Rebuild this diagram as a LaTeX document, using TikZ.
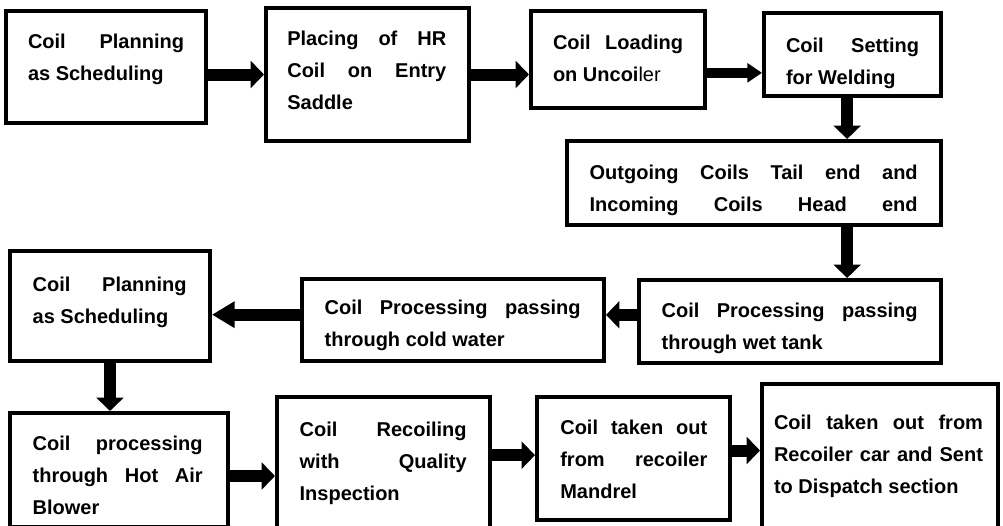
\documentclass[tikz,border=0pt]{standalone}
\usepackage{fontspec}
\setmainfont{Liberation Sans}
\usepackage{tikz}
\usetikzlibrary{arrows.meta, positioning}
\tolerance=10000
\hbadness=10000
\hyphenpenalty=10000

\begin{document}
\begin{tikzpicture}[
  x=0.75pt, y=-0.75pt,
  stage/.style={rectangle, draw, line width=3pt, fill=white},
  stagetext/.style={inner sep=0pt, outer sep=0pt, align=justify,
                    font=\fontsize{15pt}{24pt}\selectfont\bfseries},
  flow/.style={line width=9pt, -{Triangle[length=10pt, width=20pt]}},
  flowthin/.style={line width=7pt, -{Triangle[length=11pt, width=14pt]}}
]
\useasboundingbox (0,0) rectangle (1003,525);

% Fila superior
\node[stage, minimum width=150pt, minimum height=84pt]       (s1) at (106,67)    {};
\node[stage, minimum width=152.25pt, minimum height=99.75pt] (s2) at (367.5,74.5) {};
\node[stage, minimum width=130.5pt, minimum height=72.75pt]  (s3) at (618,59.5)  {};
\node[stage, minimum width=132.75pt, minimum height=62.25pt] (s4) at (852.5,54.5) {};

% Soldadura
\node[stage, minimum width=280.5pt, minimum height=63pt]     (s5) at (754,183)   {};

% Fila de retorno
\node[stage, minimum width=226.5pt, minimum height=62.25pt]  (s6) at (790,321.5) {};
\node[stage, minimum width=226.5pt, minimum height=61.5pt]   (s7) at (453,320)   {};
\node[stage, minimum width=150pt, minimum height=82.5pt]     (s8) at (110,306)   {};

% Fila inferior
\node[stage, minimum width=163.5pt, minimum height=85.5pt]   (s9)  at (119,470)   {};
\node[stage, minimum width=159.75pt, minimum height=98.25pt] (s10) at (383.5,462.5) {};
\node[stage, minimum width=144.75pt, minimum height=92.25pt] (s11) at (633.5,458.5) {};
\node[stage, minimum width=177pt, minimum height=108pt]      (s12) at (880,456)   {};

% Textos
\node[stagetext, text width=117pt, below right=19pt and 18pt of s1.north west] (t1)
  {Coil Planning\linebreak as Scheduling};
\node[stagetext, text width=119.25pt, below right=19pt and 17.5pt of s2.north west] (t2)
  {Placing of HR\linebreak Coil on Entry\linebreak Saddle};
\node[stagetext, text width=97.5pt, below right=19.5pt and 18pt of s3.north west] (t3)
  {Coil Loading\linebreak on Uncoi{\mdseries ler}};
\node[stagetext, text width=99.75pt, below right=20pt and 18pt of s4.north west] (t4)
  {Coil Setting\linebreak for Welding};
\node[stagetext, text width=246pt, below right=19.5pt and 18.5pt of s5.north west] (t5)
  {Outgoing Coils Tail end and\linebreak \makebox[246pt][s]{Incoming Coils Head end}};
\node[stagetext, text width=192pt, below right=19pt and 18.5pt of s6.north west] (t6)
  {Coil Processing passing\linebreak through wet tank};
\node[stagetext, text width=192pt, below right=17.5pt and 18.5pt of s7.north west] (t7)
  {Coil Processing passing\linebreak through cold water};
\node[stagetext, text width=115.5pt, below right=21pt and 18.5pt of s8.north west] (t8)
  {Coil Planning\linebreak as Scheduling};
\node[stagetext, text width=127.5pt, below right=18.5pt and 18.5pt of s9.north west] (t9)
  {Coil processing\linebreak through Hot Air\linebreak Blower};
\node[stagetext, text width=125.25pt, below right=20.5pt and 18.5pt of s10.north west] (t10)
  {Coil Recoiling\linebreak with Quality\linebreak Inspection};
\node[stagetext, text width=110.25pt, below right=19pt and 19pt of s11.north west] (t11)
  {Coil taken out\linebreak from recoiler\linebreak Mandrel};
\node[stagetext, text width=156.75pt, below right=25pt and 10.5pt of s12.north west] (t12)
  {Coil taken out from\linebreak Recoiler car and Sent\linebreak to Dispatch section};

% Flechas
\draw[flow]     (s1.east |- s2.west) -- (s2.west);
\draw[flow]     (s2.east) -- (s2.east -| s3.west);
\draw[flowthin] ([yshift=-10pt]s3.east) -- ([yshift=-10pt]s3.east -| s4.west);
\draw[flow]     ([xshift=-4pt]s4.south) -- ([xshift=-4pt]s4.south |- s5.north);
\draw[flow]     ([xshift=-4pt]s4.south |- s5.south) -- ([xshift=-4pt]s4.south |- s6.north);
\draw[flow]     ([yshift=5pt]s6.west) -- ([yshift=5pt]s6.west -| s7.east);
\draw[flow, -{Triangle[length=17pt, width=19pt]}]
                ([yshift=4pt]s7.west) -- ([yshift=4pt]s7.west -| s8.east);
\draw[flow]     (s8.south) -- (s8.south |- s9.north);
\draw[flow]     ([yshift=-4.5pt]s9.east) -- ([yshift=-4.5pt]s9.east -| s10.west);
\draw[flow]     ([yshift=5.5pt]s10.east) -- ([yshift=5.5pt]s10.east -| s11.west);
\draw[flow]     ([yshift=6pt]s11.east) -- ([yshift=6pt]s11.east -| s12.west);

\end{tikzpicture}
\end{document}
